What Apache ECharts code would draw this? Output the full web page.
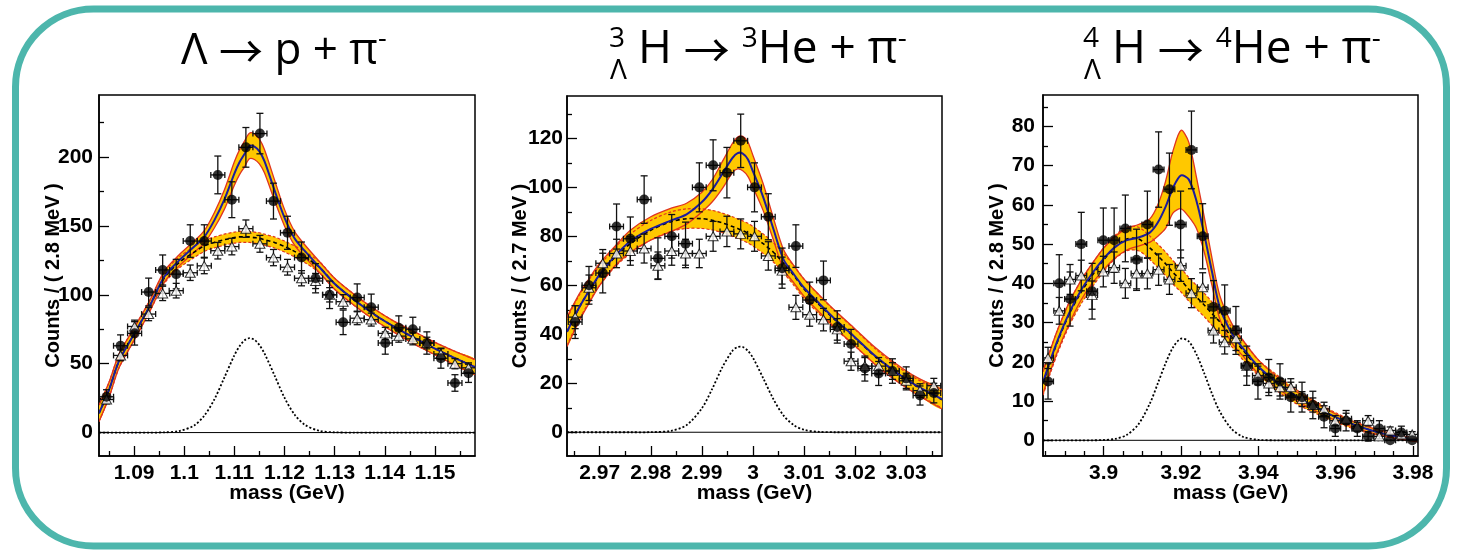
<!DOCTYPE html>
<html><head><meta charset="utf-8">
<script src="https://cdn.jsdelivr.net/npm/echarts@6/dist/echarts.min.js"></script>
<style>html,body{margin:0;padding:0;background:#fff}#c{width:1458px;height:553px}</style>
</head><body><div id="c"></div><script>
// ---------- Panel 1: Lambda -> p + pi- ----------
const p1BinX = [1.0845,1.0873,1.0901,1.0929,1.0957,1.0984,1.1012,1.1040,1.1067,1.1095,1.1123,1.1151,1.1178,1.1206,1.1234,1.1262,1.1290,1.1317,1.1345,1.1373,1.1401,1.1428,1.1456,1.1484,1.1512,1.1540,1.1567];
const p1Data = [26,63,72,102,118,115,139,139,187,169,207,217,168,145,127,112,100,80,98,91,65,76,75,65,54,36,43];
const p1DataErr = [5.1,7.9,8.5,10.1,10.9,10.7,11.8,11.8,13.7,13,14.4,14.7,13,12,11.3,10.6,10,8.9,9.9,9.5,8.1,8.7,8.7,8.1,7.3,6,6.6];
const p1Mix = [24,56,77,86,101,103,116,121,132,135,148,137,127,120,112,110,100,95,83,82,72,70,68,65,57,50,47];
const p1MixErr = [2.5,3.9,4.6,4.8,5.2,5.3,5.6,5.7,6,6,6.3,6.1,5.9,5.7,5.5,5.5,5.2,5.1,4.7,4.7,4.4,4.4,4.3,4.2,3.9,3.7,3.6];
const p1FitX = [1.083,1.085,1.087,1.09,1.093,1.096,1.099,1.102,1.104,1.106,1.108,1.11,1.111,1.112,1.113,1.114,1.115,1.116,1.118,1.12,1.122,1.124,1.127,1.13,1.134,1.138,1.142,1.146,1.15,1.154,1.158];
const p1Total = [14,31,52,71.5,91,113,125,135,142,154,169,188,196,202,208,207.5,204,197,176,156,141,132,120,108,96,85.5,76.5,68.5,61,54,47.5];
const p1TotHi = [20,36.5,57,76,95,117,129,139,146.5,159.5,176,196.5,205,211.3,217.3,216.8,213,205.5,183.5,162,146,136.5,124,112,100,89.5,80.5,73,65.5,59,53];
const p1TotLo = [8,25.5,47,67,87,109,121,131,137.5,148.5,162,179.5,187,192.7,198.7,198.2,195,188.5,168.5,150,136,127.5,116,104,92,81.5,72.5,64,56.5,49,42];
const p1Bkg = [14,31,52,71.5,91,112,123.5,131,135.5,138,140,141.5,142,142,142,141.5,141,140,138,135,131.5,127.5,120,108,96,85.5,76.5,68.5,61,54,47.5];
const p1BkgW = [6,5.5,5,4.5,4,4,4,4,4,4,4,4,4,4,4,4,4,4,4,4,4,4,4,4,4,4,4,4.5,4.5,5,5.5];
const p1Sig = [0,0,0,0,0,0.16,1.1,5.2,12.3,24,39.9,56.1,62.5,66.9,68.5,67.4,63.5,57.5,41.6,25.3,13.1,5.8,1.2,0.2,0,0,0,0,0,0,0];
const p1XMajor = [1.09,1.1,1.11,1.12,1.13,1.14,1.15];
const p1XMinor = [1.085,1.095,1.105,1.115,1.125,1.135,1.145,1.155];
const p1YMajor = [0,50,100,150,200];
const p1YMinor = [25,75,125,175,225];

// ---------- Panel 2 ----------
const p2BinX = [2.9652,2.9679,2.9706,2.9733,2.9760,2.9787,2.9814,2.9841,2.9868,2.9895,2.9922,2.9949,2.9976,3.0003,3.0030,3.0057,3.0084,3.0111,3.0138,3.0165,3.0192,3.0219,3.0246,3.0273,3.0300,3.0327,3.0354];
const p2Data = [45,60,65,84,79,95,71,80,77,100,109,106,119,100,88,67,76,54,62,43,36,26,24,25,22,15,16];
const p2DataErr = [6.7,7.7,8.1,9.2,8.9,9.7,8.4,8.9,8.8,10,10.4,10.3,10.9,10,9.4,8.2,8.7,7.3,7.9,6.6,6,5.1,4.9,5,4.7,3.9,4];
const p2Mix = [47,59,69,73,74,75,68,74,73,73,80,82,81,80,72,66,51,48,46,42,29,27,27,25,21,17,19];
const p2MixErr = [4.7,5.2,5.6,5.8,5.8,5.9,5.6,5.8,5.8,5.8,6.1,6.2,6.1,6.1,5.8,5.5,4.9,4.7,4.6,4.4,3.7,3.5,3.5,3.4,3.1,2.8,3];
const p2FitX = [2.9636,2.966,2.968,2.97,2.973,2.976,2.98,2.984,2.987,2.99,2.992,2.994,2.996,2.997,2.998,2.999,3.0,3.002,3.004,3.006,3.008,3.01,3.013,3.016,3.02,3.024,3.028,3.032,3.037];
const p2Total = [41,51,58,64.5,72,78,83,86.5,89,94,99,105.5,112,114,113.8,111.5,106.5,96,83,70.5,64.5,59,52.5,46.3,38.7,31,24.5,19,13.5];
const p2TotHi = [47,56.5,63,69,76,82.5,88,91.5,93.5,98,103,110.5,118,120.5,120.8,118.5,113,101.5,87.5,74.5,68,62.5,56,49.8,42.2,34.5,28,22.5,17.5];
const p2TotLo = [35,45.5,53,60,68,73.5,78.5,82,85,90,94,99.5,106,107.5,106.8,104.5,100,90.5,78.5,66.5,61,55.5,49,42.8,35.2,27.5,21,15.5,9.5];
const p2Bkg = [41,51,58,64,71.5,77,82.5,86,87.2,87.2,86.6,85.5,84,83.2,82.3,81.3,80,77,73.5,69,64,58.5,52,46,38.5,30.8,24.3,18.8,13.3];
const p2BkgW = [5.5,5,4.5,4,4,4,4,4,4,4,4,4,4,4,4,4,4,4,4,4,4,4,3.8,3.6,3.4,3.2,3,3,3.5];
const p2Sig = [0,0,0,0,0,0,0.03,0.6,2.9,9.8,17.6,26.5,33.3,34.8,34.8,33.3,30.4,22.1,13.5,6.8,2.9,1,0.15,0,0,0,0,0,0];
const p2XMajor = [2.97,2.98,2.99,3,3.01,3.02,3.03];
const p2XMinor = [2.965,2.975,2.985,2.995,3.005,3.015,3.025,3.035];
const p2YMajor = [0,20,40,60,80,100,120];
const p2YMinor = [10,30,50,70,90,110,130];

// ---------- Panel 3 ----------
const p3BinX = [3.8856,3.8885,3.8913,3.8942,3.8970,3.8999,3.9027,3.9056,3.9085,3.9113,3.9142,3.9170,3.9199,3.9227,3.9256,3.9284,3.9313,3.9342,3.9370,3.9399,3.9427,3.9456,3.9484,3.9513,3.9541,3.9570,3.9599,3.9627,3.9656,3.9684,3.9713,3.9741,3.9770,3.9798];
const p3Data = [15,40,36,50,38,51,51,54,46,55,69,64,55,74,52,34,33,28,19,15,16,15,11,11,9,6,3,5,3,1,3,0,2,0];
const p3DataErr = [4.5,7.3,6.9,8.1,7.1,8.2,8.2,8.5,7.8,8.5,9.6,9.2,8.5,9.9,8.3,6.7,6.6,6.1,5,4.5,4.6,4.5,3.8,3.8,3.5,2.8,2,2.6,2,1.2,2,0,1.6,0];
const p3Mix = [21,33,41,42,37,43,44,40,42.5,42.5,43.5,41,44.5,37.5,39,28,25,26,19,16.5,14.5,13.5,13.5,10.5,9,8,5,5.5,3.5,5,1,2.5,1.5,1.5];
const p3MixErr = [2.7,3.4,3.8,3.9,3.6,3.9,4,3.8,3.9,3.9,4,3.8,4,3.7,3.7,3.2,3,3.1,2.6,2.4,2.3,2.2,2.2,1.9,1.8,1.7,1.3,1.4,1.1,1.3,0.6,0.9,0.7,0.7];
const p3FitX = [3.8843,3.886,3.888,3.891,3.894,3.897,3.9,3.903,3.906,3.909,3.912,3.914,3.916,3.918,3.92,3.922,3.924,3.926,3.928,3.93,3.933,3.936,3.94,3.945,3.95,3.955,3.96,3.965,3.97,3.975,3.9813];
const p3Total = [14.8,19.8,25.3,32.3,38,42.5,46.3,49.3,51,51.7,53,55.5,59.5,64.5,67.5,66.5,61,52.5,43,34,27.5,23.5,18.8,14.6,11.1,8.4,5.9,3.9,2.3,1.1,0];
const p3TotHi = [17.5,22.5,28,35,40.5,45,49,52,54,55,56.5,60,66,74,79,76,67,57,46.5,37,30,25.5,20.5,16,12.3,9.4,6.7,4.6,2.9,1.6,0.4];
const p3TotLo = [12,17,22.5,29.5,35.5,40,43.5,46.5,48.5,49.5,50.5,52,54,58,59,57,54,48,39.5,31,25,21.5,17,13.2,10,7.4,5.1,3.2,1.7,0.6,-0.4];
const p3Bkg = [14.5,19.5,25,32,37.5,42,46,49.3,51.3,51.3,49,47,45,42.7,40.8,38.5,36.5,34.5,32.3,30.2,26.5,23,18.5,14.5,11,8.3,5.8,3.8,2.3,1.1,0];
const p3BkgW = [3,3,3,3,3,3,3,3,3,3,3,3,3,3,3,3,3,3,3,3,2.5,2.5,2,2,1.8,1.5,1.2,1,0.8,0.6,0.4];
const p3Sig = [0,0,0,0,0,0,0.08,0.37,1.4,4.1,9.5,14.5,19.6,23.8,25.9,25.2,21.9,17.1,11.9,7.4,3,0.9,0.13,0,0,0,0,0,0,0,0];
const p3XMajor = [3.9,3.92,3.94,3.96,3.98];
const p3XMinor = [3.885,3.89,3.895,3.905,3.91,3.915,3.925,3.93,3.935,3.945,3.95,3.955,3.965,3.97,3.975];
const p3YMajor = [0,10,20,30,40,50,60,70,80];
const p3YMinor = [5,15,25,35,45,55,65,75,85];

const yNames = ['Counts / ( 2.8 MeV )','Counts / ( 2.7 MeV )','Counts / ( 2.8 MeV )'];

// ---------- layout / style ----------
const YEL = '#FFC800', RED = '#E0341F', BLUE = '#1C1C9E';
const AXFONT = 'Liberation Sans';
const panels = [
  {grid:{left:99,top:95,width:376,height:361}, x:[1.083,1.158], y:[-17,245], hw:0.0014, lm:6, ng:36,
   binX:p1BinX, data:p1Data, dataErr:p1DataErr, mix:p1Mix, mixErr:p1MixErr, fitX:p1FitX, total:p1Total, hi:p1TotHi, lo:p1TotLo, bkg:p1Bkg, bkgW:p1BkgW, sig:p1Sig,
   xMajor:p1XMajor, xMinor:p1XMinor, yMajor:p1YMajor, yMinor:p1YMinor},
  {grid:{left:567,top:96,width:375,height:360}, x:[2.9636,3.037], y:[-9.7,137.3], hw:0.00135, lm:4, ng:37,
   binX:p2BinX, data:p2Data, dataErr:p2DataErr, mix:p2Mix, mixErr:p2MixErr, fitX:p2FitX, total:p2Total, hi:p2TotHi, lo:p2TotLo, bkg:p2Bkg, bkgW:p2BkgW, sig:p2Sig,
   xMajor:p2XMajor, xMinor:p2XMinor, yMajor:p2YMajor, yMinor:p2YMinor},
  {grid:{left:1043,top:95,width:375,height:361}, x:[3.8843,3.9813], y:[-4,88], hw:0.0014, lm:8, ng:36,
   binX:p3BinX, data:p3Data, dataErr:p3DataErr, mix:p3Mix, mixErr:p3MixErr, fitX:p3FitX, total:p3Total, hi:p3TotHi, lo:p3TotLo, bkg:p3Bkg, bkgW:p3BkgW, sig:p3Sig,
   xMajor:p3XMajor, xMinor:p3XMinor, yMajor:p3YMajor, yMinor:p3YMinor}
];

const SM = 0.3;
const grids = [], xAxes = [], yAxes = [], series = [];
panels.forEach((P, gi) => {
  grids.push(Object.assign({show:true, borderColor:'#000', borderWidth:1.5, containLabel:false, outerBoundsMode:'none'}, P.grid));
  xAxes.push({type:'value', gridIndex:gi, min:P.x[0], max:P.x[1], position:'bottom',
    axisLine:{show:true, onZero:false, lineStyle:{color:'#000', width:1.5}},
    axisTick:{show:true, inside:true, length:10, customValues:P.xMajor, lineStyle:{color:'#000', width:1.3}},
    axisLabel:{show:true, margin:7, customValues:P.xMajor, color:'#000', fontSize:21, fontWeight:'bold', fontFamily:AXFONT},
    splitLine:{show:false}, minorTick:{show:false},
    name:'mass (GeV)', nameLocation:'middle', nameGap:27, nameMoveOverlap:false,
    nameTextStyle:{color:'#000', fontSize:21, fontWeight:'bold', fontFamily:AXFONT}});
  xAxes.push({type:'value', gridIndex:gi, min:P.x[0], max:P.x[1], position:'bottom',
    axisLine:{show:false, onZero:false}, axisLabel:{show:false}, splitLine:{show:false},
    axisTick:{show:true, inside:true, length:5, customValues:P.xMinor, lineStyle:{color:'#000', width:1.3}}});
  yAxes.push({type:'value', gridIndex:gi, min:P.y[0], max:P.y[1], position:'left',
    axisLine:{show:true, onZero:false, lineStyle:{color:'#000', width:1.5}},
    axisTick:{show:true, inside:true, length:10, customValues:P.yMajor, lineStyle:{color:'#000', width:1.3}},
    axisLabel:{show:true, margin:P.lm, customValues:P.yMajor, color:'#000', fontSize:21, fontWeight:'bold', fontFamily:AXFONT},
    splitLine:{show:false},
    name:yNames[gi], nameLocation:'middle', nameGap:P.ng, nameRotate:90, nameMoveOverlap:false,
    nameTextStyle:{color:'#000', fontSize:20, fontWeight:'bold', fontFamily:AXFONT}});
  yAxes.push({type:'value', gridIndex:gi, min:P.y[0], max:P.y[1], position:'left',
    axisLine:{show:false, onZero:false}, axisLabel:{show:false}, splitLine:{show:false},
    axisTick:{show:true, inside:true, length:5, customValues:P.yMinor, lineStyle:{color:'#000', width:1.3}}});

  const base = {xAxisIndex:2*gi, yAxisIndex:2*gi, silent:true, animation:false, clip:true};
  function band(lo, hi, z) {
    const data = P.fitX.map((x,i)=>[x, lo[i], hi[i]]);
    series.push(Object.assign({type:'custom', z, data,
      renderItem(params, api) {
        if (params.dataIndex !== 0) return null;
        const top = data.map(d=>api.coord([d[0], d[2]]));
        const bot = data.map(d=>api.coord([d[0], d[1]])).reverse();
        return {type:'polygon', shape:{points: top.concat(bot), smooth:SM}, style:{fill:YEL, stroke:null}};
      }}, base));
  }
  function curve(ys, st, z) {
    const data = P.fitX.map((x,i)=>[x, ys[i]]);
    series.push(Object.assign({type:'custom', z, data,
      renderItem(params, api) {
        if (params.dataIndex !== 0) return null;
        const pts = data.map(d=>api.coord([d[0], d[1]]));
        return {type:'polyline', shape:{points: pts, smooth:SM}, style:Object.assign({fill:null}, st)};
      }}, base));
  }
  const bLo = P.bkg.map((v,i)=>v-P.bkgW[i]);
  const bHi = P.bkg.map((v,i)=>v+P.bkgW[i]);
  band(bLo, bHi, 1);
  band(P.lo, P.hi, 1);
  curve(bHi, {stroke:RED, lineWidth:1.2, lineDash:[3,2]}, 2);
  curve(bLo, {stroke:RED, lineWidth:1.2, lineDash:[3,2]}, 2);
  curve(P.hi, {stroke:RED, lineWidth:1.3}, 2);
  curve(P.lo, {stroke:RED, lineWidth:1.3}, 2);
  series.push(Object.assign({type:'line', data:[[P.x[0],0],[P.x[1],0]], symbol:'none', lineStyle:{color:'#000', width:1}, z:2}, base));
  curve(P.bkg, {stroke:'#000', lineWidth:1.6, lineDash:[4,3]}, 3);
  curve(P.sig, {stroke:'#000', lineWidth:1.8, lineDash:[2,2]}, 3);
  curve(P.total, {stroke:BLUE, lineWidth:2}, 3);

  function errSeries(xs, ys, es) {
    return Object.assign({type:'custom', z:4, data: xs.map((x,i)=>[x, ys[i], es[i]]),
      renderItem(params, api) {
        const x = api.value(0), y = api.value(1), e = api.value(2);
        const c = api.coord([x, y]);
        const l = api.coord([x - P.hw, y])[0], r = api.coord([x + P.hw, y])[0];
        const st = {stroke:'#111', lineWidth:1.3, fill:null};
        const ch = [
          {type:'line', shape:{x1:l, y1:c[1], x2:r, y2:c[1]}, style:st},
          {type:'line', shape:{x1:l, y1:c[1]-3, x2:l, y2:c[1]+3}, style:st},
          {type:'line', shape:{x1:r, y1:c[1]-3, x2:r, y2:c[1]+3}, style:st}];
        if (e > 0) {
          const t = api.coord([x, y + e])[1], b = api.coord([x, y - e])[1];
          ch.push({type:'line', shape:{x1:c[0], y1:t, x2:c[0], y2:b}, style:st},
                  {type:'line', shape:{x1:c[0]-3.5, y1:t, x2:c[0]+3.5, y2:t}, style:st},
                  {type:'line', shape:{x1:c[0]-3.5, y1:b, x2:c[0]+3.5, y2:b}, style:st});
        }
        return {type:'group', children:ch};
      }}, base);
  }
  series.push(errSeries(P.binX, P.mix, P.mixErr));
  series.push(errSeries(P.binX, P.data, P.dataErr));
  series.push(Object.assign({type:'scatter', data:P.binX.map((x,i)=>[x, P.mix[i]]), symbol:'triangle', symbolSize:[10,9],
    itemStyle:{color:'#fff', borderColor:'#000', borderWidth:1}, z:5}, base));
  series.push(Object.assign({type:'scatter', data:P.binX.map((x,i)=>[x, P.data[i]]), symbol:'circle', symbolSize:10,
    itemStyle:{color:'#000'}, z:6}, base));
});

const TF = 'Open Sans';
const ARF = 'Noto Sans CJK JP';
const rich1 = {
  m:{fontSize:44, fontFamily:TF, lineHeight:50, color:'#000'},
  a:{fontSize:44, fontFamily:ARF, lineHeight:50, color:'#000'},
  s:{fontSize:27, fontFamily:TF, lineHeight:24, verticalAlign:'top', color:'#000'}
};
const rich2 = {
  m:{fontSize:46, fontFamily:TF, lineHeight:50, color:'#000'},
  a:{fontSize:46, fontFamily:ARF, lineHeight:50, color:'#000'},
  s:{fontSize:28, fontFamily:TF, lineHeight:24, verticalAlign:'top', color:'#000'},
  p:{fontSize:28, fontFamily:TF, lineHeight:24, verticalAlign:'top', width:29, color:'#000'}
};
const graphic = [
  {type:'rect', shape:{x:15.5, y:9, width:1431, height:537, r:78}, style:{fill:'none', stroke:'#4DB6AC', lineWidth:7}, z:100},
  {type:'text', x:181, y:26, style:{text:'{m|Λ }{a|→}{m| p + π}{s|-}', rich:rich1, align:'left', verticalAlign:'top'}},
  {type:'text', x:609, y:25, style:{text:'{p|3}{m|H }{a|→}{m| }{s|3}{m|He + π}{s|-}', rich:rich2, align:'left', verticalAlign:'top'}},
  {type:'text', x:610, y:71, style:{text:'Λ', font:'28px "Open Sans"', fill:'#000', align:'left', verticalAlign:'middle'}},
  {type:'text', x:1083, y:25, style:{text:'{p|4}{m|H }{a|→}{m| }{s|4}{m|He + π}{s|-}', rich:rich2, align:'left', verticalAlign:'top'}},
  {type:'text', x:1084, y:71, style:{text:'Λ', font:'28px "Open Sans"', fill:'#000', align:'left', verticalAlign:'middle'}}
];

const chart = echarts.init(document.getElementById('c'), null, {renderer:'canvas'});
chart.setOption({animation:false, backgroundColor:'#fff', grid:grids, xAxis:xAxes, yAxis:yAxes, series, graphic});
</script></body></html>
